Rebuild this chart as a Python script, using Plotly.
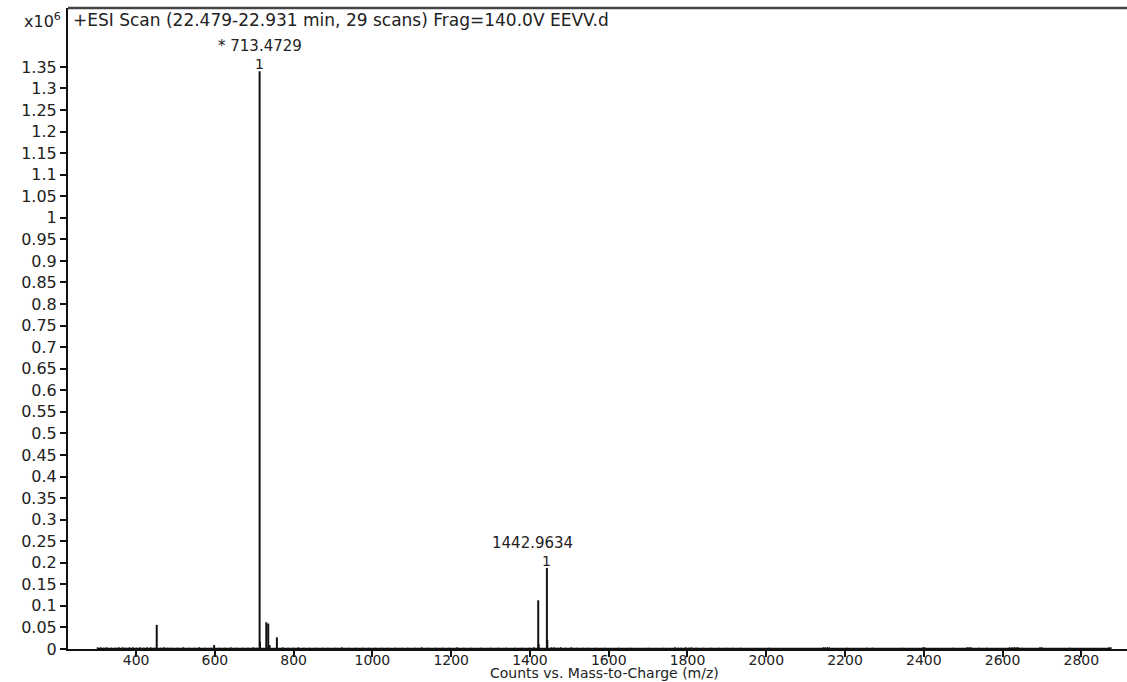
import plotly.graph_objects as go

# ---- data (intensity in counts x10^6) ----
peak_mz = [452.3, 598.0, 705.4, 713.4729, 714.48, 730.50, 735.45, 738.9, 757.4,
           1420.98, 1421.99, 1442.9634, 1443.97]
peak_int = [0.056, 0.009, 0.003, 1.340, 0.017, 0.062, 0.059, 0.009, 0.027,
            0.113, 0.011, 0.188, 0.021]

noise_mz = [302, 310, 318, 325, 337, 348, 356, 366, 374, 383, 392, 401, 410, 419,
            428, 437, 446, 463, 471, 480, 489, 505, 520, 534, 548, 560, 575, 590,
            611, 625, 640, 655, 670, 684, 697, 772, 786, 800, 812, 826, 841, 858,
            873, 887, 905, 922, 940, 958, 975, 992, 1008, 1025, 1040, 1058, 1075,
            1090, 1108, 1125, 1140, 1160, 1178, 1195, 1215, 1232, 1250, 1275, 1300,
            1320, 1340, 1362, 1380, 1398, 1410, 1455, 1462, 1470, 1478, 1490, 1505,
            1520, 1535, 1548, 1568, 1590, 1625, 1655, 1700, 1740, 1768, 1776, 1784,
            1795, 1803, 1810, 1822, 1840, 1860, 1880, 1898, 1915, 1935, 2008, 2145,
            2150, 2155, 2160, 2205, 2255, 2270, 2345, 2398, 2402, 2475, 2510, 2515,
            2520, 2540, 2560, 2618, 2625, 2630, 2635, 2640, 2650, 2695, 2700, 2770,
            2870, 2875]
noise_int = [0.004, 0.004, 0.003, 0.004, 0.003, 0.003, 0.004, 0.004, 0.003, 0.004,
             0.004, 0.003, 0.004, 0.003, 0.004, 0.004, 0.003, 0.003, 0.004, 0.003,
             0.003, 0.003, 0.004, 0.003, 0.003, 0.004, 0.003, 0.003, 0.003, 0.003,
             0.004, 0.003, 0.003, 0.003, 0.004, 0.004, 0.003, 0.003, 0.004, 0.003,
             0.003, 0.003, 0.003, 0.003, 0.003, 0.004, 0.003, 0.003, 0.003, 0.003,
             0.003, 0.003, 0.003, 0.003, 0.003, 0.003, 0.003, 0.004, 0.003, 0.003,
             0.003, 0.003, 0.004, 0.003, 0.003, 0.003, 0.003, 0.003, 0.003, 0.003,
             0.003, 0.003, 0.004, 0.004, 0.004, 0.003, 0.004, 0.003, 0.004, 0.003,
             0.003, 0.003, 0.003, 0.003, 0.003, 0.003, 0.003, 0.003, 0.004, 0.003,
             0.003, 0.004, 0.003, 0.004, 0.003, 0.003, 0.003, 0.003, 0.003, 0.003,
             0.003, 0.003, 0.004, 0.004, 0.004, 0.004, 0.003, 0.003, 0.003, 0.003,
             0.004, 0.004, 0.003, 0.004, 0.004, 0.004, 0.003, 0.003, 0.004, 0.004,
             0.004, 0.004, 0.004, 0.003, 0.004, 0.004, 0.003, 0.004, 0.004]

labelled_mz = [713.4729, 1442.9634]
labelled_int = [1.340, 0.188]
labelled_text = ["* 713.4729", "1442.9634"]
labelled_charge = ["1", "1"]
label_xshift = [0, -14]

y_tick_vals = [0, 0.05, 0.1, 0.15, 0.2, 0.25, 0.3, 0.35, 0.4, 0.45, 0.5, 0.55, 0.6,
               0.65, 0.7, 0.75, 0.8, 0.85, 0.9, 0.95, 1, 1.05, 1.1, 1.15, 1.2, 1.25,
               1.3, 1.35]
y_tick_text = ["0", "0.05", "0.1", "0.15", "0.2", "0.25", "0.3", "0.35", "0.4",
               "0.45", "0.5", "0.55", "0.6", "0.65", "0.7", "0.75", "0.8", "0.85",
               "0.9", "0.95", "1", "1.05", "1.1", "1.15", "1.2", "1.25", "1.3", "1.35"]
x_tick_vals = [400, 600, 800, 1000, 1200, 1400, 1600, 1800, 2000, 2200, 2400, 2600, 2800]

title_text = "+ESI Scan (22.479-22.931 min, 29 scans) Frag=140.0V EEVV.d"
x_title = "Counts vs. Mass-to-Charge (m/z)"

FONT = "DejaVu Sans"
TXT = "#222222"


def sticks(mz, inten):
    xs, ys = [], []
    for m, h in zip(mz, inten):
        xs += [m, m, None]
        ys += [0, h, None]
    return xs, ys


fig = go.Figure()
nx, ny = sticks(noise_mz, noise_int)
fig.add_trace(go.Scatter(x=nx, y=ny, mode="lines",
                         line=dict(color="#111111", width=1.5), hoverinfo="skip"))
fig.add_trace(go.Scatter(x=[min(noise_mz), max(noise_mz)], y=[0.0012, 0.0012], mode="lines",
                         line=dict(color="#111111", width=1.5), hoverinfo="skip"))
px, py = sticks(peak_mz, peak_int)
fig.add_trace(go.Scatter(x=px, y=py, mode="lines",
                         line=dict(color="#111111", width=2), hoverinfo="skip"))

annotations = []
for m, h, t, c, xs in zip(labelled_mz, labelled_int, labelled_text, labelled_charge, label_xshift):
    annotations.append(dict(x=m, y=h, xref="x", yref="y", text=c, showarrow=False,
                            yanchor="middle", yshift=7, font=dict(family=FONT, size=14, color=TXT)))
    annotations.append(dict(x=m, y=h, xref="x", yref="y", text=t, showarrow=False,
                            yanchor="middle", yshift=25, xshift=xs,
                            font=dict(family=FONT, size=15, color=TXT)))

annotations.append(dict(x=0.003, y=1, xref="paper", yref="paper", text=title_text,
                        showarrow=False, xanchor="left", yanchor="middle", yshift=-12,
                        font=dict(family=FONT, size=17, color=TXT)))
annotations.append(dict(x=0, y=1, xref="paper", yref="paper", text="x10<sup>6</sup>",
                        showarrow=False, xanchor="right", yanchor="middle", yshift=-12,
                        xshift=-5, font=dict(family=FONT, size=16, color=TXT)))
annotations.append(dict(x=0.5, y=0, xref="paper", yref="paper", text=x_title,
                        showarrow=False, xanchor="center", yanchor="bottom", yshift=-34,
                        xshift=7, font=dict(family=FONT, size=14, color=TXT)))

fig.update_layout(
    width=1127, height=682,
    margin=dict(l=68, r=0, t=8, b=33),
    paper_bgcolor="white", plot_bgcolor="white",
    showlegend=False,
    annotations=annotations,
    xaxis=dict(range=[227, 2916], tickvals=x_tick_vals, ticks="outside", ticklen=6,
               tickwidth=1.5, tickcolor="#111", showgrid=False, zeroline=False,
               showline=True, linecolor="#111", linewidth=2, mirror=False,
               ticklabelstandoff=-9,
               tickfont=dict(family=FONT, size=14, color=TXT)),
    yaxis=dict(range=[0, 1.4866], tickvals=y_tick_vals, ticktext=y_tick_text,
               ticks="outside", ticklen=6, tickwidth=1.5, tickcolor="#111",
               showgrid=False, zeroline=False, showline=True, linecolor="#111",
               linewidth=2, tickfont=dict(family=FONT, size=16, color=TXT)),
    shapes=[dict(type="line", xref="paper", yref="paper", x0=0, x1=1, y0=1, y1=1,
                 line=dict(color="#444", width=2.5))],
)

fig.write_html("out.html")
